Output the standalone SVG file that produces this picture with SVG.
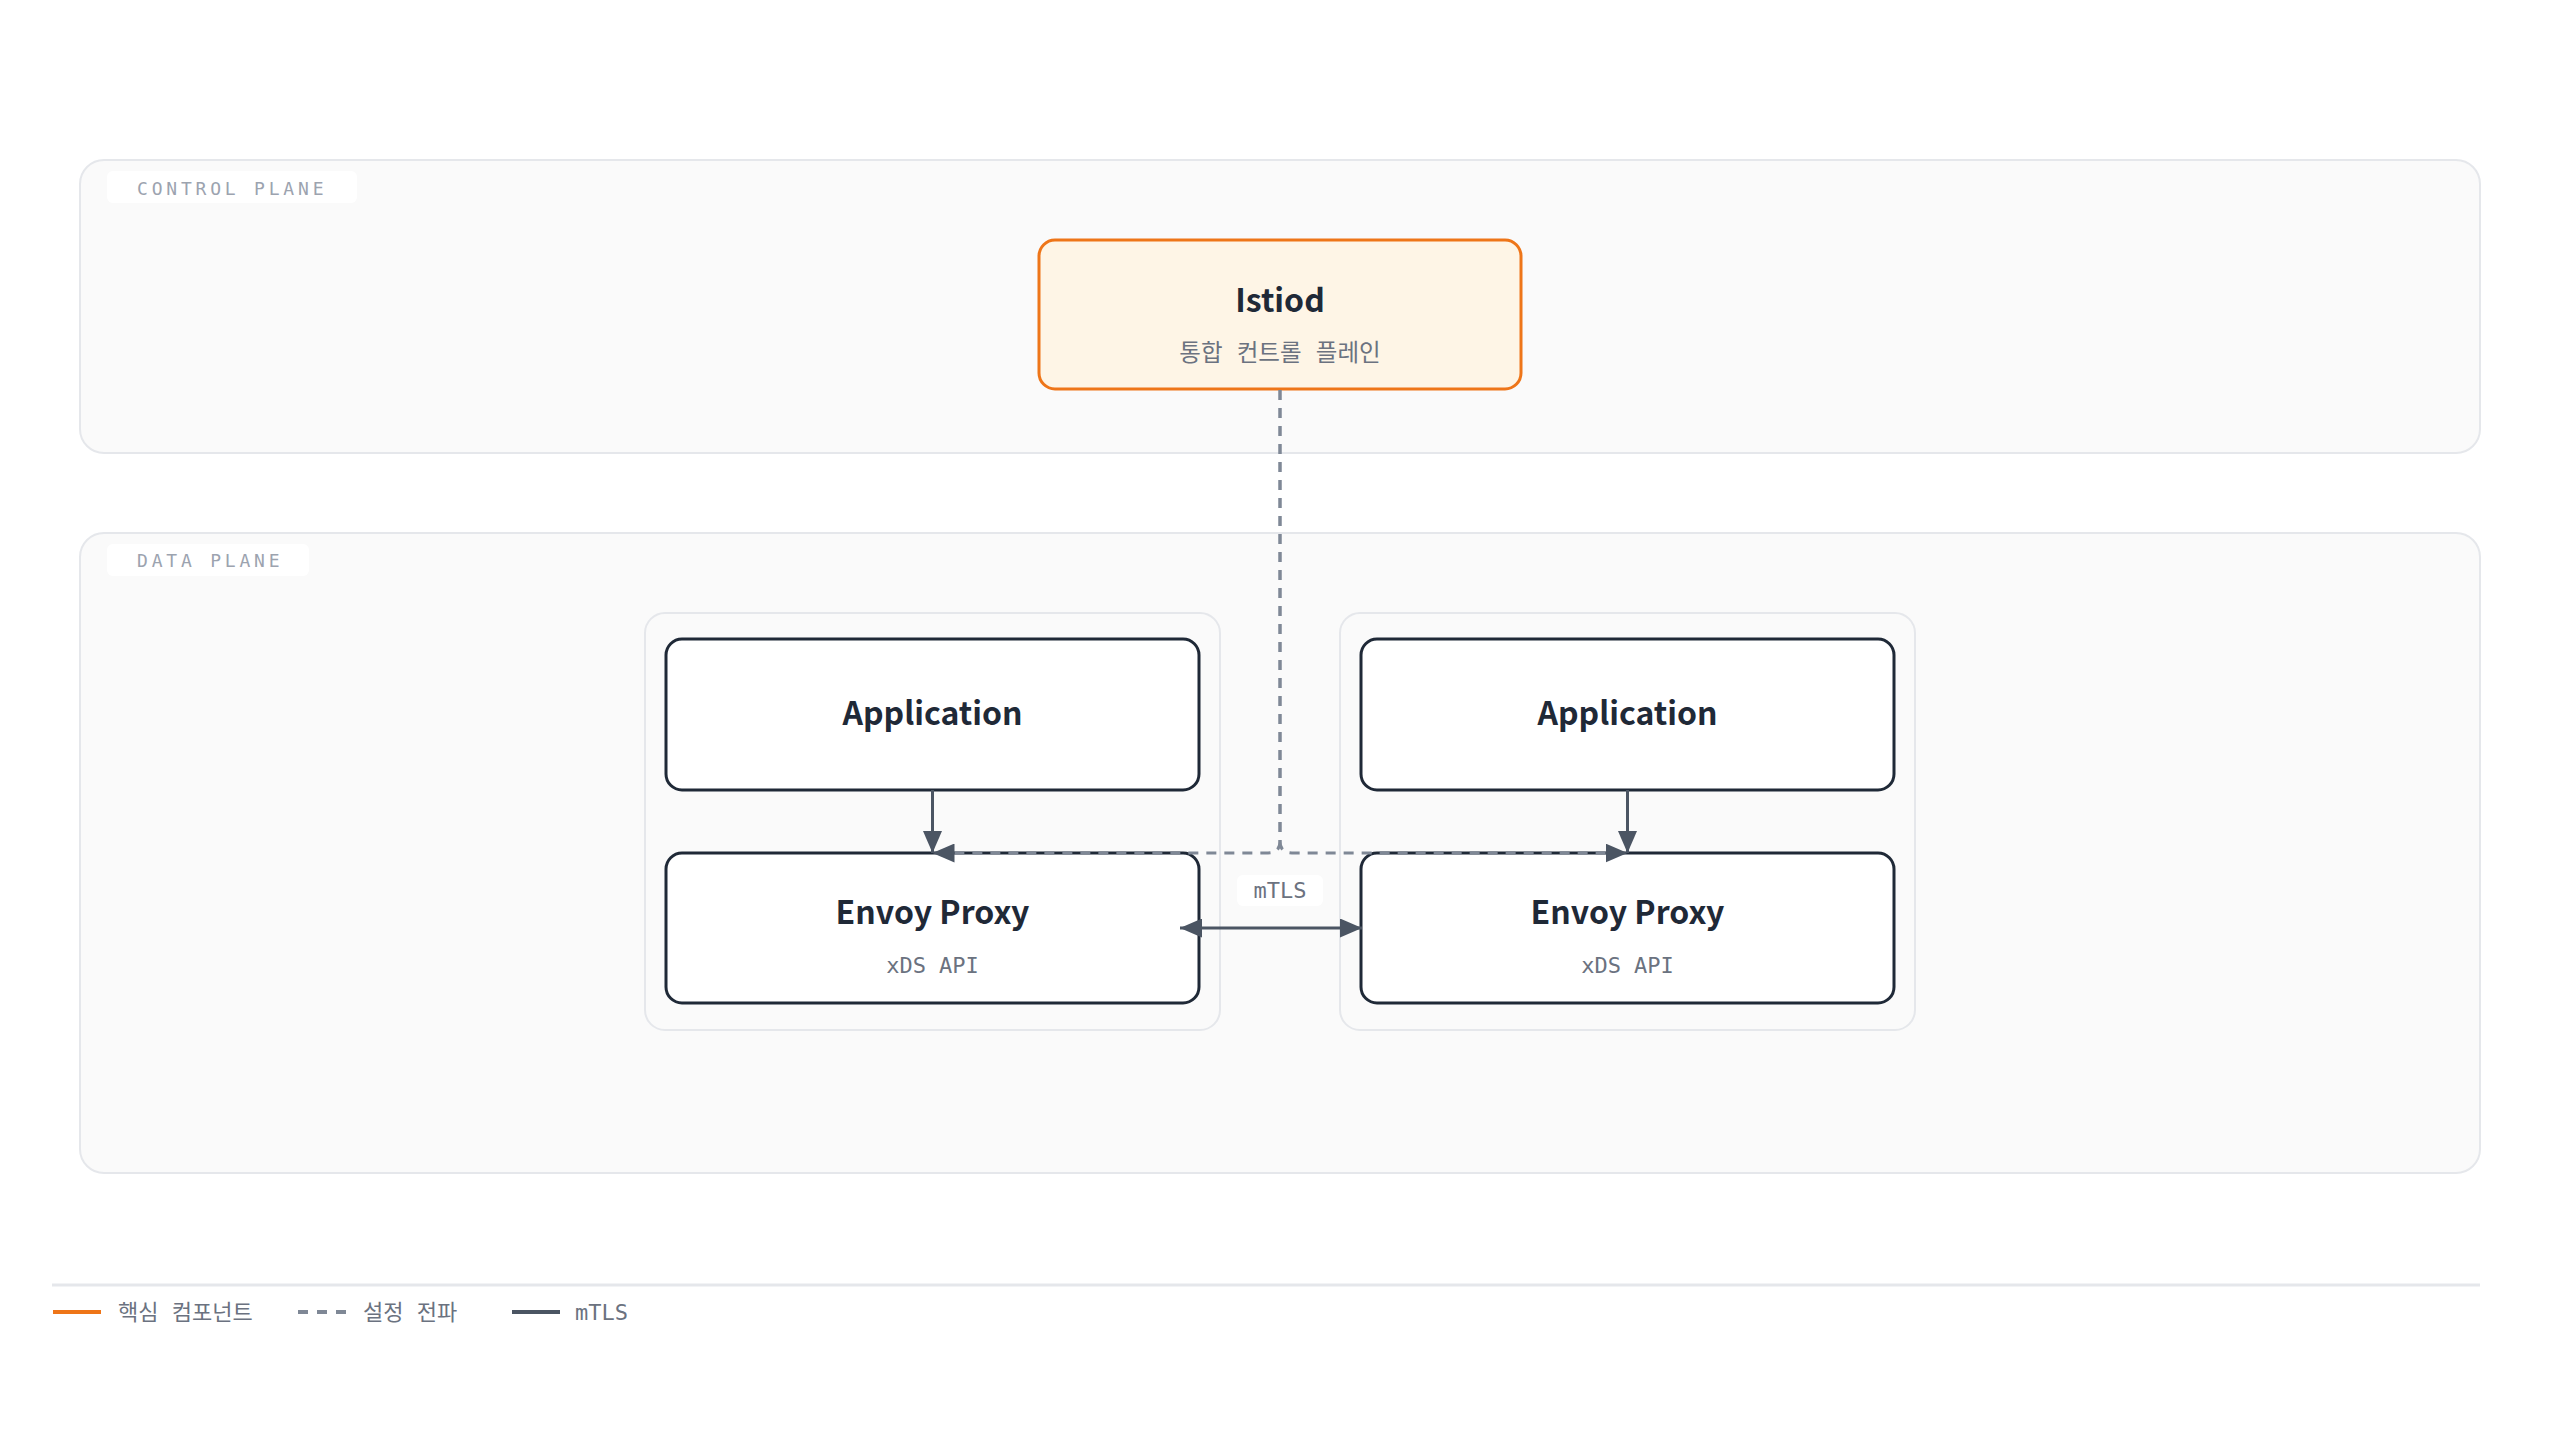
<svg xmlns="http://www.w3.org/2000/svg" width="2560" height="1440" viewBox="0 0 2560 1440">
<defs>
<style>
.plane{fill:#fafafa;stroke:#e5e7eb;stroke-width:2}
.pill{fill:#ffffff}
.plabel{font-family:"DejaVu Sans Mono","Noto Sans CJK KR",monospace;font-size:18px;letter-spacing:3.8px;fill:#9ca3af}
.pod{fill:#fafafa;stroke:#e5e7eb;stroke-width:2}
.node{fill:#ffffff;stroke:#1f2937;stroke-width:3}
.core{fill:#fef5e6;stroke:#ee7518;stroke-width:3}
.title{font-family:"Noto Sans CJK KR","Noto Sans",sans-serif;font-weight:700;font-size:32px;fill:#1f2937;text-anchor:middle}
.sub{font-family:"DejaVu Sans Mono","Noto Sans CJK KR",monospace;font-size:22px;fill:#6b7280;text-anchor:middle}
.solid{fill:none;stroke:#4b5563;stroke-width:3}
.dash{fill:none;stroke:#7f8896;stroke-width:3;stroke-dasharray:10 8}
.legend{font-family:"DejaVu Sans Mono","Noto Sans CJK KR",monospace;font-size:22px;fill:#6b7280}
</style>
<marker id="ah" viewBox="0 0 22 19" refX="22" refY="9.5" markerWidth="22" markerHeight="19" markerUnits="userSpaceOnUse" orient="auto-start-reverse">
<path d="M0,0 L22,9.5 L0,19 z" fill="#4b5563"/>
</marker>
</defs>
<rect width="2560" height="1440" fill="#ffffff"/>

<g id="control-plane">
<rect class="plane" x="80" y="160" width="2400" height="293" rx="24"/>
<rect class="pill" x="107" y="171" width="250" height="32" rx="6"/>
<text class="plabel" x="137" y="195">CONTROL PLANE</text>
</g>

<g id="data-plane">
<rect class="plane" x="80" y="533" width="2400" height="640" rx="24"/>
<rect class="pill" x="107" y="544" width="202" height="32" rx="6"/>
<text class="plabel" x="137" y="567">DATA PLANE</text>
</g>

<g id="pod-left">
<rect class="pod" x="645" y="613" width="575" height="417" rx="20"/>
</g>
<g id="pod-right">
<rect class="pod" x="1340" y="613" width="575" height="417" rx="20"/>
</g>

<g id="istiod">
<rect class="core" x="1039" y="240" width="482" height="149" rx="16"/>
<text class="title" x="1280" y="312">Istiod</text>
<text class="sub" x="1280" y="361" style="font-size:23.5px">통합 컨트롤 플레인</text>
</g>

<g id="app-left">
<rect class="node" x="666" y="639" width="533" height="151" rx="16"/>
<text class="title" x="932.5" y="725">Application</text>
</g>
<g id="envoy-left">
<rect class="node" x="666" y="853" width="533" height="150" rx="16"/>
<text class="title" x="932.5" y="924">Envoy Proxy</text>
<text class="sub" x="932.5" y="973">xDS API</text>
</g>

<g id="app-right">
<rect class="node" x="1361" y="639" width="533" height="151" rx="16"/>
<text class="title" x="1627.5" y="725">Application</text>
</g>
<g id="envoy-right">
<rect class="node" x="1361" y="853" width="533" height="150" rx="16"/>
<text class="title" x="1627.5" y="924">Envoy Proxy</text>
<text class="sub" x="1627.5" y="973">xDS API</text>
</g>

<g id="connectors">
<path class="solid" d="M932.5,790 V853" marker-end="url(#ah)"/>
<path class="solid" d="M1627.5,790 V853" marker-end="url(#ah)"/>
<path class="dash" d="M1280,390 V841 Q1280,853 1268,853 H932.5" marker-end="url(#ah)"/>
<path class="dash" d="M1280,390 V841 Q1280,853 1292,853 H1627.5" marker-end="url(#ah)"/>
<path class="solid" d="M1180,928 H1362" marker-start="url(#ah)" marker-end="url(#ah)"/>
<rect class="pill" x="1237" y="875" width="86" height="31" rx="6"/>
<text class="legend" x="1280" y="898" text-anchor="middle">mTLS</text>
</g>

<g id="legend">
<line x1="52" y1="1285" x2="2480" y2="1285" stroke="#e5e7eb" stroke-width="3"/>
<line x1="53" y1="1312" x2="101" y2="1312" stroke="#ee7518" stroke-width="4"/>
<text class="legend" x="118" y="1320">핵심 컴포넌트</text>
<line x1="298" y1="1312" x2="346" y2="1312" stroke="#7f8896" stroke-width="4" stroke-dasharray="10 9"/>
<text class="legend" x="363" y="1320">설정 전파</text>
<line x1="512" y1="1312" x2="560" y2="1312" stroke="#4b5563" stroke-width="4"/>
<text class="legend" x="575" y="1320">mTLS</text>
</g>
</svg>
